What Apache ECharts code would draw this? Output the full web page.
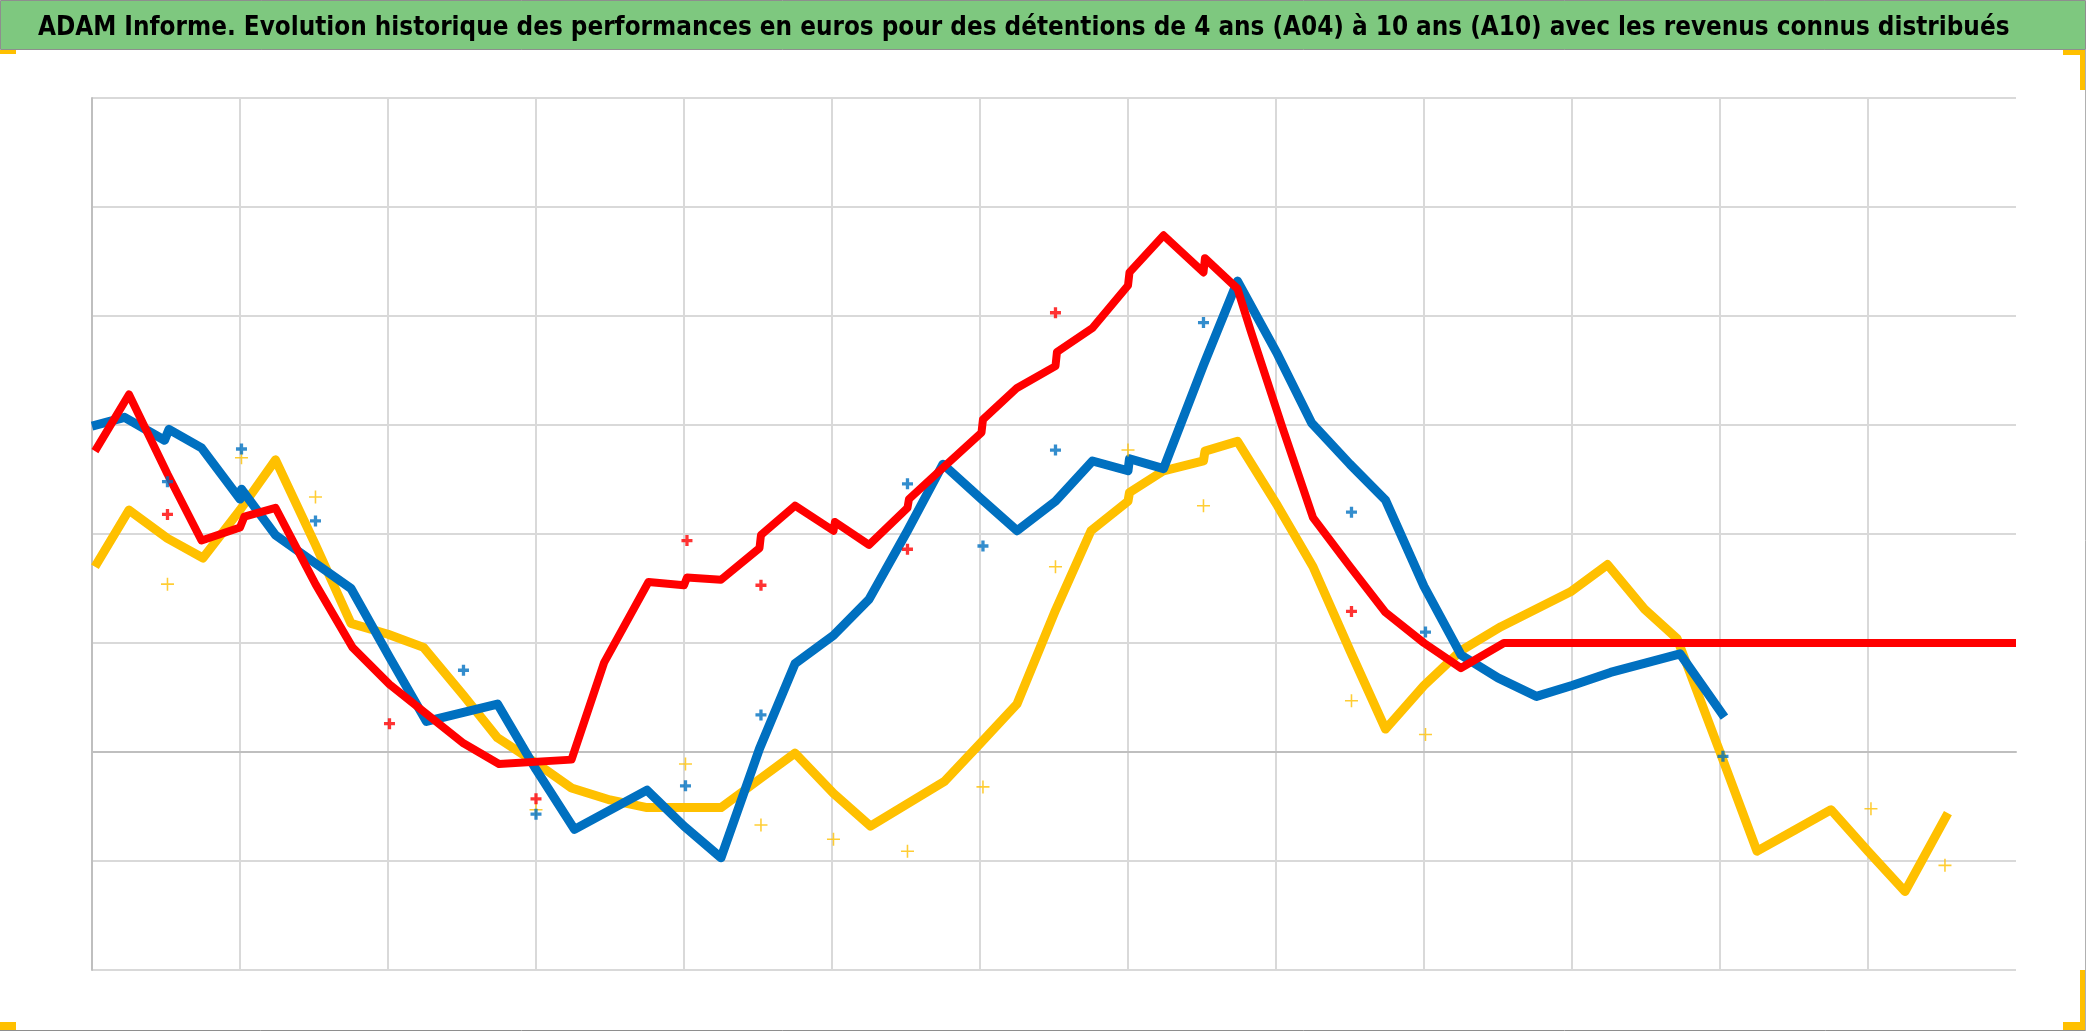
<!DOCTYPE html>
<html>
<head>
<meta charset="utf-8">
<script src="https://cdn.jsdelivr.net/npm/echarts@6/dist/echarts.min.js"></script>
<style>
html,body{margin:0;padding:0;background:#fff;}
#chart{width:2086px;height:1031px;}
</style>
</head>
<body>
<div id="chart"></div>
<script>
const titleText = "ADAM Informe. Evolution historique des performances en euros pour des détentions de 4 ans (A04) à 10 ans (A10) avec les revenus connus distribués";

// x: years since start of the chart, y: performance units (no labels shown in the reference)
const blueLine = [[0.0,2.99],[0.22,3.07],[0.49,2.86],[0.52,2.96],[0.74,2.79],[1.0,2.32],[1.01,2.41],[1.24,1.99],[1.51,1.73],[1.75,1.50],[2.01,0.87],[2.26,0.28],[2.74,0.44],[3.0,-0.16],[3.26,-0.71],[3.75,-0.35],[4.0,-0.68],[4.25,-0.97],[4.51,0.03],[4.75,0.81],[5.01,1.07],[5.25,1.40],[5.51,2.03],[5.75,2.64],[6.01,2.32],[6.25,2.03],[6.51,2.30],[6.76,2.67],[7.0,2.58],[7.01,2.69],[7.24,2.60],[7.51,3.55],[7.74,4.32],[8.01,3.65],[8.24,3.02],[8.50,2.64],[8.74,2.31],[9.0,1.52],[9.25,0.89],[9.50,0.68],[9.76,0.51],[10.0,0.61],[10.26,0.73],[10.73,0.90],[11.03,0.32]];
const redLine = [[0.02,2.76],[0.25,3.28],[0.51,2.55],[0.74,1.94],[1.0,2.06],[1.03,2.16],[1.24,2.24],[1.51,1.54],[1.76,0.96],[2.01,0.62],[2.51,0.08],[2.75,-0.11],[3.24,-0.07],[3.46,0.82],[3.76,1.56],[4.0,1.53],[4.02,1.60],[4.25,1.58],[4.51,1.87],[4.52,1.99],[4.75,2.26],[5.01,2.03],[5.02,2.11],[5.25,1.90],[5.51,2.24],[5.52,2.32],[5.76,2.62],[6.01,2.93],[6.02,3.05],[6.25,3.34],[6.51,3.54],[6.52,3.67],[6.76,3.89],[7.0,4.28],[7.01,4.40],[7.24,4.74],[7.51,4.40],[7.52,4.53],[7.74,4.25],[7.83,3.86],[8.04,2.99],[8.25,2.15],[8.50,1.70],[8.74,1.28],[9.0,1.00],[9.25,0.77],[9.54,1.0],[13.0,1.0]];
const yellowLine = [[0.02,1.70],[0.25,2.22],[0.51,1.96],[0.75,1.78],[1.0,2.22],[1.24,2.68],[1.51,1.90],[1.75,1.18],[2.0,1.08],[2.24,0.96],[2.51,0.52],[2.74,0.13],[3.0,-0.10],[3.24,-0.33],[3.5,-0.44],[3.75,-0.51],[4.25,-0.51],[4.51,-0.25],[4.75,-0.01],[5.01,-0.38],[5.26,-0.68],[5.76,-0.27],[6.01,0.09],[6.25,0.44],[6.51,1.30],[6.75,2.03],[7.0,2.30],[7.01,2.38],[7.24,2.58],[7.51,2.67],[7.52,2.76],[7.74,2.85],[8.01,2.26],[8.25,1.70],[8.50,0.93],[8.74,0.21],[9.0,0.61],[9.25,0.93],[9.52,1.15],[9.99,1.47],[10.24,1.72],[10.49,1.31],[10.71,1.04],[11.0,0.0],[11.25,-0.91],[11.50,-0.72],[11.75,-0.53],[12.0,-0.91],[12.25,-1.28],[12.54,-0.56]];

const blueDots = [[1.01,2.78],[0.51,2.48],[1.51,2.12],[2.51,0.75],[3.0,-0.57],[4.01,-0.31],[4.52,0.34],[5.51,2.46],[6.02,1.89],[6.51,2.77],[7.51,3.94],[8.51,2.20],[9.01,1.10],[11.02,-0.04]];
const redDots = [[0.51,2.18],[2.01,0.26],[3.0,-0.43],[4.02,1.94],[4.52,1.53],[5.51,1.86],[6.51,4.03],[8.51,1.29]];
const yellowDots = [[1.01,2.70],[0.51,1.54],[1.51,2.34],[3.0,-0.53],[4.01,-0.11],[4.52,-0.67],[5.01,-0.80],[5.51,-0.91],[6.02,-0.32],[6.51,1.70],[7.0,2.77],[7.51,2.26],[8.51,0.47],[9.01,0.16],[12.02,-0.52],[12.52,-1.04]];

const seriesNames = ["A04", "A07", "A10"];
const colors = ["#0070C0", "#FF0000", "#FFC000"];

const boldPlus = 'path://M3.5,0H6.5V3.5H10V6.5H6.5V10H3.5V6.5H0V3.5H3.5Z';
const thinPlus = 'path://M4.4,0H5.6V4.4H10V5.6H5.6V10H4.4V5.6H0V4.4H4.4Z';

const chart = echarts.init(document.getElementById('chart'), null, {renderer: 'canvas'});

function lineSeries(name, data, color, width, z) {
  return {
    name: name, type: 'line', data: data, showSymbol: false, symbol: 'none',
    lineStyle: {color: color, width: width, cap: 'butt', join: 'round'},
    z: z, animation: false, silent: true
  };
}
function dotSeries(name, data, color, sym, size, z) {
  return {
    name: name, type: 'scatter', data: data, symbol: sym, symbolSize: size,
    itemStyle: {color: color}, z: z, animation: false, silent: true
  };
}

chart.setOption({
  animation: false,
  backgroundColor: '#ffffff',
  title: {
    text: titleText,
    left: 33, top: 10,
    textStyle: {fontFamily: '"DejaVu Sans Condensed", "Liberation Sans Narrow", sans-serif', fontWeight: 'bold', fontSize: 25.8, color: '#000'}
  },
  graphic: [
    {type: 'rect', z: -10, shape: {x: 0.5, y: 0.5, width: 2085, height: 49}, style: {fill: '#7ec87f', stroke: '#8e8e8e', lineWidth: 1}},
    {type: 'rect', shape: {x: 0, y: 50, width: 16, height: 4}, style: {fill: '#FFC000'}},
    {type: 'rect', shape: {x: 2063, y: 50, width: 23, height: 5}, style: {fill: '#FFC000'}},
    {type: 'rect', shape: {x: 2080, y: 50, width: 6, height: 40}, style: {fill: '#FFC000'}},
    {type: 'rect', shape: {x: 0, y: 1022, width: 16, height: 8}, style: {fill: '#FFC000'}},
    {type: 'rect', shape: {x: 2080, y: 970, width: 6, height: 60}, style: {fill: '#FFC000'}},
    {type: 'rect', shape: {x: 2063, y: 1022, width: 23, height: 8}, style: {fill: '#FFC000'}},
    {type: 'line', shape: {x1: 0, y1: 1030.5, x2: 2086, y2: 1030.5}, style: {stroke: '#8e8e8e', lineWidth: 1}},
    {type: 'line', shape: {x1: 2085.5, y1: 50, x2: 2085.5, y2: 1031}, style: {stroke: '#b0b0b0', lineWidth: 1}}
  ],
  grid: {left: 92, right: 70, top: 98, bottom: 61, containLabel: false},
  xAxis: {
    type: 'value', min: 0, max: 13, interval: 1,
    axisLine: {show: true, onZero: true, lineStyle: {color: '#bfbfbf', width: 2}},
    axisTick: {show: false}, axisLabel: {show: false},
    splitLine: {show: true, showMaxLine: false, lineStyle: {color: '#d9d9d9', width: 2}}
  },
  yAxis: {
    type: 'value', min: -2, max: 6, interval: 1,
    axisLine: {show: true, onZero: false, lineStyle: {color: '#bfbfbf', width: 2}},
    axisTick: {show: false}, axisLabel: {show: false},
    splitLine: {show: true, lineStyle: {color: '#d9d9d9', width: 2}}
  },
  series: [
    lineSeries(seriesNames[2], yellowLine, colors[2], 9, 2),
    lineSeries(seriesNames[0], blueLine, colors[0], 9, 3),
    lineSeries(seriesNames[1], redLine, colors[1], 8, 4),
    dotSeries(seriesNames[2] + ' ', yellowDots, colors[2], thinPlus, 13, 5),
    dotSeries(seriesNames[0] + ' ', blueDots, colors[0], boldPlus, 11, 6),
    dotSeries(seriesNames[1] + ' ', redDots, colors[1], boldPlus, 11, 7)
  ]
});
</script>
</body>
</html>
